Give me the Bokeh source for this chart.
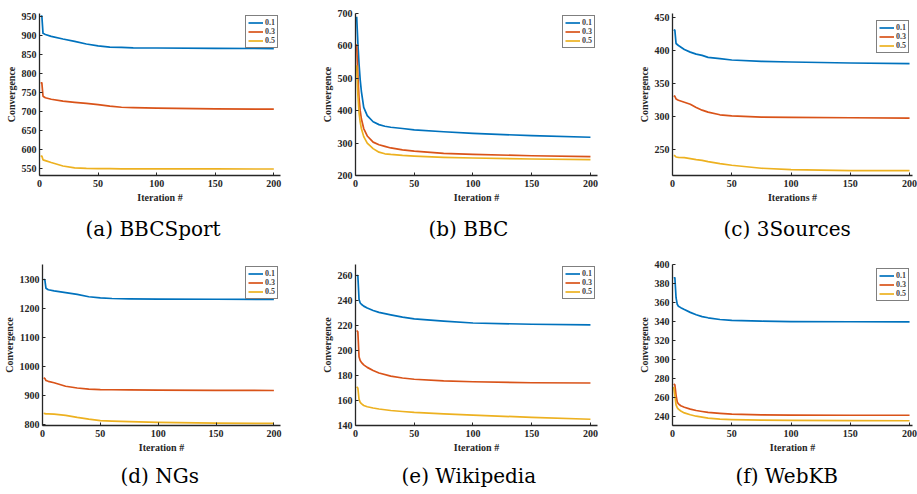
from bokeh.plotting import figure
from bokeh.models import Range1d, FixedTicker, Legend, LegendItem, Title
from bokeh.layouts import column, row
from bokeh.embed import file_html
from bokeh.resources import INLINE

# ---------------- data ----------------
series_labels = ["0.1", "0.3", "0.5"]
colors = ["#0072BD", "#D95319", "#EDB120"]
x_ticks = [0, 50, 100, 150, 200]

# (a) BBCSport
it_a = [1, 2, 3, 5, 10, 20, 30, 40, 50, 60, 70, 80, 100, 150, 200]
a01 = [950, 950, 905, 902, 897, 890, 884, 877, 872, 869, 868, 867, 866.5, 865.5, 865]
a03 = [775, 775, 740, 736, 732, 727, 724, 721, 718, 714, 711, 710, 708.5, 707, 706]
a05 = [583, 583, 573, 571, 566, 557, 552, 550.5, 550, 549.8, 549.6, 549.5, 549.5, 549.2, 549]
yt_a = [550, 600, 650, 700, 750, 800, 850, 900, 950]

# (b) BBC
it_b = [1, 2, 3, 4, 5, 7, 10, 15, 20, 25, 30, 40, 50, 75, 100, 150, 200]
b01 = [690, 610, 545, 495, 460, 410, 385, 366, 357, 352, 349, 345, 341, 335, 330, 323, 318]
b03 = [605, 510, 440, 400, 375, 345, 322, 303, 295, 290, 285, 279, 275, 268, 265, 261, 258]
b05 = [540, 450, 395, 365, 345, 320, 300, 283, 272, 267, 265, 262, 260, 256, 254, 251, 249]
yt_b = [200, 300, 400, 500, 600, 700]

# (c) 3Sources
it_c = [1, 2, 3, 5, 10, 15, 20, 25, 30, 40, 50, 75, 100, 150, 200]
c01 = [431, 430, 410, 407, 401, 397, 394, 392, 389, 387, 385, 383, 382, 380.5, 379.5]
c03 = [331, 330, 326, 324, 321, 318, 313, 309, 306, 302, 300.5, 298.5, 298, 297.5, 297]
c05 = [240, 240, 238, 237.5, 237, 235.5, 234, 233, 231, 228, 225.5, 221, 219, 217.5, 217.5]
yt_c = [250, 300, 350, 400, 450]

# (d) NGs
it_d = [1, 2, 3, 5, 10, 20, 30, 40, 50, 60, 75, 100, 150, 200]
d01 = [1300, 1300, 1270, 1265, 1261, 1255, 1249, 1241, 1237, 1235, 1234, 1233, 1232.5, 1232]
d03 = [962, 960, 953, 950, 945, 933, 927, 923, 921.5, 921, 920.5, 919.5, 919, 918.5]
d05 = [840, 839, 838, 838, 837, 833, 826, 820, 815, 813, 811, 809, 806, 805]
yt_d = [800, 900, 1000, 1100, 1200, 1300]

# (e) Wikipedia
it_e = [1, 2, 3, 4, 5, 7, 10, 15, 20, 30, 40, 50, 75, 100, 150, 200]
e01 = [260, 260, 241, 238, 237, 235.5, 234, 232, 230.5, 228.5, 226.7, 225.3, 223.5, 222, 221, 220.5]
e03 = [216, 215, 195, 192, 190.5, 188.5, 186.5, 184, 182, 179.5, 178, 177, 175.7, 175, 174.2, 174]
e05 = [171, 170, 161, 158.5, 157.5, 156, 155, 154, 153.2, 152, 151.2, 150.5, 149.3, 148.3, 146.5, 145]
yt_e = [140, 160, 180, 200, 220, 240, 260]

# (f) WebKB
it_f = [1, 2, 3, 4, 5, 7, 10, 15, 20, 25, 30, 40, 50, 75, 100, 150, 200]
f01 = [386, 386, 365, 358, 356, 354.5, 352.5, 349.5, 347, 345, 343.8, 342, 341, 340.2, 339.8, 339.6, 339.5]
f03 = [274, 273, 262, 255, 253, 251, 249.5, 247.5, 246, 245, 244, 243, 242.2, 241.5, 241.1, 241, 241]
f05 = [271, 262, 252, 249, 247.5, 245.5, 243.5, 241.5, 240, 239, 238, 237, 236.5, 235.8, 235.5, 235.3, 235.2]
yt_f = [240, 260, 280, 300, 320, 340, 360, 380, 400]

captions = ["(a) BBCSport", "(b) BBC", "(c) 3Sources", "(d) NGs", "(e) Wikipedia", "(f) WebKB"]
x_titles = ["Iteration #", "Iteration #", "Iterations #", "Iteration #", "Iteration #", "Iteration #"]
y_title = "Convergence"

panels = [
    (it_a, [a01, a03, a05], (532, 957), yt_a),
    (it_b, [b01, b03, b05], (200, 700), yt_b),
    (it_c, [c01, c03, c05], (210, 455.5), yt_c),
    (it_d, [d01, d03, d05], (798, 1352), yt_d),
    (it_e, [e01, e03, e05], (140, 268.8), yt_e),
    (it_f, [f01, f03, f05], (230.2, 400), yt_f),
]

# ---------------- layout geometry (page pixels) ----------------
col_left = [39, 65, 65]
col_frame = [241, 242, 240]
col_right = [10, 10, 5]
col_xend = [205.7, 206, 202.5]
col_frame_left_page = [39, 355, 672]

row_height = [250, 243]
row_top = [13, 14]
row_frame_h = [162, 161]
row_cap_standoff = [18, 12]

cap_left_page = [85, 428, 723, 117, 401, 735]

AX = "#262626"
FONT = "Liberation Serif"


def make_panel(i):
    r, c = divmod(i, 3)
    its, ys, yr, yt = panels[i]
    p = figure(width=col_left[c] + col_frame[c] + col_right[c], height=row_height[r],
               min_border_left=col_left[c], min_border_right=col_right[c],
               min_border_top=row_top[r],
               min_border_bottom=row_height[r] - row_top[r] - row_frame_h[r],
               x_range=Range1d(0, col_xend[c]), y_range=Range1d(*yr),
               output_backend="svg", toolbar_location=None)
    p.outline_line_color = None
    p.grid.visible = False
    p.background_fill_color = "white"
    p.border_fill_color = "white"

    rends = []
    for k in range(3):
        rend = p.line(its, ys[k], line_color=colors[k], line_width=1.7, line_join="round")
        rends.append(rend)

    p.xaxis.ticker = FixedTicker(ticks=x_ticks)
    p.yaxis.ticker = FixedTicker(ticks=yt)
    p.xaxis.axis_label = x_titles[i]
    p.yaxis.axis_label = y_title
    for ax in (p.xaxis[0], p.yaxis[0]):
        ax.axis_line_color = AX
        ax.axis_line_width = 1.3
        ax.major_tick_line_color = AX
        ax.major_tick_in = 3
        ax.major_tick_out = 0
        ax.minor_tick_line_color = None
        ax.major_label_text_font = FONT
        ax.major_label_text_font_style = "bold"
        ax.major_label_text_font_size = "10px"
        ax.major_label_text_color = AX
        ax.axis_label_text_font = FONT
        ax.axis_label_text_font_style = "bold"
        ax.axis_label_text_font_size = "10px"
        ax.axis_label_text_color = AX
    p.xaxis.major_label_standoff = 4
    p.xaxis.axis_label_standoff = 2
    p.yaxis.major_label_standoff = 3
    p.yaxis.axis_label_standoff = 2

    items = [LegendItem(label=series_labels[k], renderers=[rends[k]]) for k in range(3)]
    if c == 2:
        loc = (204, 122 if r == 0 else 124)
    else:
        loc = "top_right"
    leg = Legend(items=items, location=loc, margin=2, padding=2, spacing=0,
                 label_text_font=FONT, label_text_font_style="bold", label_text_font_size="8px",
                 label_height=9, label_width=10, glyph_height=9, glyph_width=15, label_standoff=2,
                 border_line_color="black", border_line_width=1,
                 background_fill_color="white", background_fill_alpha=1)
    p.add_layout(leg)

    cap = Title(text=captions[i], align="left",
                offset=cap_left_page[i] - col_frame_left_page[c],
                standoff=row_cap_standoff[r],
                text_font="DejaVu Serif", text_font_size="20px",
                text_font_style="normal", text_color="black")
    p.add_layout(cap, "below")
    return p


figs = [make_panel(i) for i in range(6)]
layout = column(row(*figs[:3]), row(*figs[3:]))

open("out.html", "w").write(file_html(layout, INLINE))
